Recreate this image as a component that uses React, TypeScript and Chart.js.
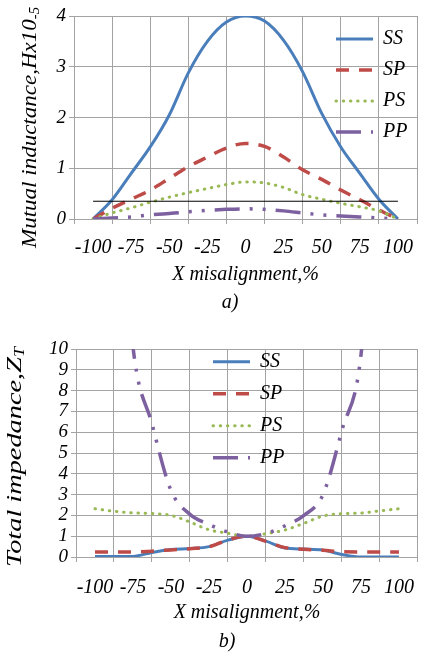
import React, { useEffect, useRef } from 'react';
import { Chart, registerables } from 'chart.js';

Chart.register(...registerables);

const FAMILY = "'Liberation Serif', 'Times New Roman', serif";

// ---------- data ----------
const X_VALUES = [-100, -87.5, -75, -62.5, -50, -37.5, -25, -12.5, 0, 12.5, 25, 37.5, 50, 62.5, 75, 87.5, 100];
const X_TICK_LABELS = [-100, -75, -50, -25, 0, 25, 50, 75, 100];
const SERIES_NAMES = ['SS', 'SP', 'PS', 'PP'];

// a) Mutual inductance, H x10^-5
const M_SS = [0, 0.38, 0.9, 1.42, 2.05, 2.88, 3.5, 3.88, 4.0, 3.9, 3.52, 2.9, 2.08, 1.42, 0.9, 0.39, 0];
const M_SP = [0, 0.21, 0.39, 0.57, 0.8, 1.03, 1.22, 1.4, 1.49, 1.43, 1.22, 0.97, 0.78, 0.57, 0.38, 0.18, 0];
const M_PS = [0, 0.12, 0.22, 0.33, 0.43, 0.52, 0.6, 0.68, 0.73, 0.71, 0.62, 0.48, 0.39, 0.31, 0.24, 0.16, 0];
const M_PP = [0, 0.02, 0.04, 0.08, 0.11, 0.14, 0.17, 0.19, 0.2, 0.19, 0.16, 0.12, 0.08, 0.06, 0.04, 0.02, 0];
const M_LIMIT_X = [-100, 100];
const M_LIMIT_Y = [0.35, 0.35];
const M_Y_MAX = 4;

// b) Total impedance, Z_T
const Z_SS = [0.02, 0.02, 0.03, 0.22, 0.36, 0.41, 0.5, 0.81, 1.0, 0.76, 0.43, 0.38, 0.33, 0.12, 0, 0, 0];
const Z_SP = [0.24, 0.24, 0.24, 0.28, 0.34, 0.4, 0.49, 0.82, 1.0, 0.75, 0.45, 0.37, 0.33, 0.25, 0.24, 0.24, 0.24];
const Z_PS = [2.32, 2.2, 2.12, 2.09, 2.0, 1.68, 1.31, 1.14, 1.0, 1.12, 1.3, 1.62, 1.97, 2.08, 2.11, 2.22, 2.32];
const Z_PP = [40, 22, 10.1, 6.4, 3.2, 2.05, 1.57, 1.2, 1.0, 1.13, 1.5, 2.0, 3.0, 6.1, 9.7, 22, 40];
const Z_Y_MAX = 10;

// ---------- styles ----------
const GRID = '#a3a3a3';
const STYLES = [
  { color: '#4a7ebb', width: 3, dash: [] as number[], cap: 'butt', legendOffset: 0 },
  { color: '#be4b48', width: 3.5, dash: [13, 10], cap: 'butt', legendOffset: 0 },
  { color: '#98b954', width: 3, dash: [0.5, 6.7], cap: 'round', legendOffset: 0 },
  { color: '#7d60a0', width: 3.5, dash: [25, 10, 3, 10, 3, 10], cap: 'butt', legendOffset: 0 },
];

const font20 = { family: FAMILY, size: 20, style: 'italic' as const, lineHeight: 1.2 };
const font19 = { family: FAMILY, size: 19, style: 'italic' as const, lineHeight: 1.2 };

type Panel = {
  series: number[][];
  limit?: { x: number[]; y: number[] };
  yMax: number;
  padTop: number;
  padRight: number;
  yAxisWidth: number;
  xAxisHeight: number;
  tickPad: number;
  titlePadBottom: number;
  legendLeft: number;
  legendTop: number;
  legendPad: number;
  yTitle: string;
  ySub: string;
  yTitleX: number;
  yTitleCy: number;
  yTitleLen: number;
  tag: string;
  tagX: number;
  tagY: number;
};

const PANEL_A: Panel = {
  series: [M_SS, M_SP, M_PS, M_PP],
  limit: { x: M_LIMIT_X, y: M_LIMIT_Y },
  yMax: M_Y_MAX,
  padTop: 16,
  padRight: 11,
  yAxisWidth: 74,
  xAxisHeight: 108,
  tickPad: 12,
  titlePadBottom: 40,
  legendLeft: 325,
  legendTop: 18,
  legendPad: 11,
  yTitle: 'Mutual inductance,Hx10',
  ySub: '-5',
  yTitleX: 36,
  yTitleCy: 127.5,
  yTitleLen: 241,
  tag: 'a)',
  tagX: 230,
  tagY: 303,
};

const PANEL_B: Panel = {
  series: [Z_SS, Z_SP, Z_PS, Z_PP],
  yMax: Z_Y_MAX,
  padTop: 22,
  padRight: 1,
  yAxisWidth: 76,
  xAxisHeight: 97,
  tickPad: 14,
  titlePadBottom: 29,
  legendLeft: 201,
  legendTop: 12.7,
  legendPad: 12,
  yTitle: 'Total impedance,Z',
  ySub: 'T',
  yTitleX: 21,
  yTitleCy: 130,
  yTitleLen: 220,
  tag: 'b)',
  tagX: 227,
  tagY: 315,
};

function extrasPlugin(p: Panel) {
  return {
    id: 'panelExtras',
    beforeDraw(chart: any) {
      const lg = chart.legend;
      if (lg) {
        lg.left = p.legendLeft;
        lg.top = p.legendTop;
        lg.right = chart.width;
        lg.bottom = chart.height;
      }
    },
    afterDraw(chart: any) {
      const ctx = chart.ctx as CanvasRenderingContext2D;
      const titleFont = `italic 22px ${FAMILY}`;
      const subFont = `italic 14px ${FAMILY}`;
      ctx.save();
      ctx.fillStyle = '#000';
      ctx.font = titleFont;
      const w1 = ctx.measureText(p.yTitle).width;
      ctx.font = subFont;
      const w2 = ctx.measureText(p.ySub).width;
      const total = w1 + w2;
      const sx = p.yTitleLen / total;
      ctx.translate(p.yTitleX, p.yTitleCy);
      ctx.rotate(-Math.PI / 2);
      ctx.scale(sx, 1);
      ctx.textAlign = 'left';
      ctx.textBaseline = 'alphabetic';
      ctx.font = titleFont;
      ctx.fillText(p.yTitle, -total / 2, 0);
      ctx.font = subFont;
      ctx.fillText(p.ySub, -total / 2 + w1, 3);
      ctx.restore();

      ctx.save();
      ctx.fillStyle = '#000';
      ctx.font = `italic 20px ${FAMILY}`;
      ctx.textAlign = 'center';
      ctx.textBaseline = 'middle';
      ctx.fillText(p.tag, p.tagX, p.tagY);
      ctx.restore();
    },
  };
}

function makeConfig(p: Panel): any {
  const datasets: any[] = p.series.map((vals, i) => ({
    label: SERIES_NAMES[i],
    data: X_VALUES.map((x, j) => ({ x, y: vals[j] })),
    borderColor: STYLES[i].color,
    backgroundColor: STYLES[i].color,
    borderWidth: STYLES[i].width,
    borderDash: STYLES[i].dash,
    borderCapStyle: STYLES[i].cap,
    legendOffset: STYLES[i].legendOffset,
    pointRadius: 0,
    pointHoverRadius: 0,
    cubicInterpolationMode: 'monotone',
    fill: false,
    order: 4 - i,
  }));
  if (p.limit) {
    const lim = p.limit;
    datasets.push({
      label: '',
      data: lim.x.map((x, j) => ({ x, y: lim.y[j] })),
      borderColor: '#000',
      backgroundColor: '#000',
      borderWidth: 1,
      pointRadius: 0,
      pointHoverRadius: 0,
      fill: false,
      order: 0,
    });
  }

  return {
    type: 'line',
    data: { datasets },
    plugins: [extrasPlugin(p)],
    options: {
      animation: false,
      responsive: false,
      maintainAspectRatio: false,
      events: [],
      layout: { padding: { left: 0, right: p.padRight, top: p.padTop, bottom: 0 } },
      scales: {
        x: {
          type: 'linear',
          min: -112.5,
          max: 112.5,
          afterBuildTicks: (s: any) => {
            s.ticks = X_TICK_LABELS.map((v) => ({ value: v }));
          },
          afterFit: (s: any) => {
            s.height = p.xAxisHeight;
          },
          grid: { offset: true, color: GRID, lineWidth: 1, drawTicks: true, tickLength: 5, tickColor: GRID },
          border: { display: true, color: GRID, width: 1 },
          ticks: {
            autoSkip: false,
            maxRotation: 0,
            minRotation: 0,
            padding: p.tickPad,
            color: '#000',
            font: font20,
            callback: (v: any) => String(v),
          },
          title: {
            display: true,
            text: 'X misalignment,%',
            color: '#000',
            font: font20,
            padding: { top: 0, bottom: p.titlePadBottom },
          },
        },
        y: {
          type: 'linear',
          min: 0,
          max: p.yMax,
          afterFit: (s: any) => {
            s.width = p.yAxisWidth;
          },
          grid: { color: GRID, lineWidth: 1, drawTicks: true, tickLength: 5, tickColor: GRID },
          border: { display: true, color: GRID, width: 1 },
          ticks: { stepSize: 1, autoSkip: false, padding: 3, color: '#000', font: font19 },
        },
      },
      plugins: {
        title: { display: false },
        tooltip: { enabled: false },
        legend: {
          display: true,
          position: 'chartArea',
          align: 'start',
          labels: {
            usePointStyle: true,
            pointStyle: 'line',
            pointStyleWidth: 37,
            padding: p.legendPad,
            color: '#000',
            font: font20,
            generateLabels: (chart: any) =>
              chart.data.datasets
                .map((ds: any, i: number) => ({ ds, i }))
                .filter(({ ds }: any) => !!ds.label)
                .map(({ ds, i }: any) => ({
                  text: ds.label,
                  fillStyle: ds.borderColor,
                  strokeStyle: ds.borderColor,
                  lineWidth: ds.borderWidth,
                  lineDash: ds.borderDash || [],
                  lineDashOffset: ds.legendOffset || 0,
                  lineCap: ds.borderCapStyle || 'butt',
                  pointStyle: 'line',
                  hidden: false,
                  datasetIndex: i,
                  fontColor: '#000',
                })),
          },
        },
      },
    },
  };
}

function ChartPanel({ panel, top }: { panel: Panel; top: number }) {
  const ref = useRef<HTMLCanvasElement | null>(null);
  useEffect(() => {
    if (!ref.current) return;
    const chart = new Chart(ref.current, makeConfig(panel));
    return () => chart.destroy();
  }, [panel]);
  return (
    <canvas
      ref={ref}
      width={428}
      height={327}
      style={{ position: 'absolute', left: 0, top, width: 428, height: 327, display: 'block' }}
    />
  );
}

export default function App() {
  return (
    <div style={{ position: 'absolute', left: 0, top: 0, width: 428, height: 654, background: '#fff' }}>
      <ChartPanel panel={PANEL_A} top={0} />
      <ChartPanel panel={PANEL_B} top={327} />
    </div>
  );
}
